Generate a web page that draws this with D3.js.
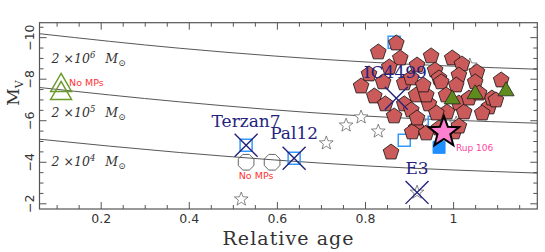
<!DOCTYPE html>
<html>
<head>
<meta charset="utf-8">
<script src="https://cdn.jsdelivr.net/npm/d3@7"></script>
<style>
  html, body { margin: 0; padding: 0; background: #fff; }
  svg { display: block; }
</style>
</head>
<body>
<svg id="chart" width="545" height="252"></svg>
<script>
// Relative age vs M_V — globular clusters, constant-mass tracks

const xDomain = [0.06, 1.19];
const yDomain = [-10.72, -1.75];
const xMajor = [0.2, 0.4, 0.6, 0.8, 1];
const yMajor = [-10, -8, -6, -4, -2];

// constant-mass lines [age, Mv]
const massLines = [
  { label: '6', pts: [[0.06, -10.19], [0.378, -9.49], [0.808, -8.82], [1.19, -8.48]], labelAt: [0.0875, -8.8] },
  { label: '5', pts: [[0.06, -7.60], [0.378, -6.91], [0.763, -6.27], [1.19, -5.88]], labelAt: [0.0875, -6.17] },
  { label: '4', pts: [[0.06, -5.11], [0.378, -4.47], [0.808, -3.82], [1.19, -3.48]], labelAt: [0.0875, -3.83] },
];

// red pentagons: bulk of the sample
const pentAge = [0.87, 0.829, 0.879, 0.854, 0.808, 0.79, 0.82, 0.888, 0.904, 0.915, 0.888, 0.865, 0.904, 0.915,
  0.858, 0.906, 0.938, 1.001, 0.949, 0.958, 0.997, 1.019, 0.967, 1.012, 1.053, 1.108, 1.006, 0.972, 0.944, 0.938,
  1.012, 1.024, 1.08, 1.087, 1.049, 0.967, 1.012, 0.84, 0.917, 0.985, 1.065, 1.096, 0.931,
  0.917, 0.983, 1.035, 0.961, 0.845, 1.058];
const pentMv = [-9.73, -9.30, -9.01, -8.58, -8.24, -7.66, -7.18, -7.81, -8.05, -7.23, -6.80, -6.22, -6.51, -5.64,
  -4.48, -5.45, -5.40, -5.45, -9.11, -8.43, -9.01, -8.72, -8.05, -8.19, -8.34, -7.95, -7.71, -7.86, -6.80, -7.23,
  -6.84, -6.41, -6.65, -7.08, -7.86, -5.64, -5.73, -7.86, -6.12, -6.41, -6.36, -6.99, -7.71,
  -8.67, -7.23, -7.08, -6.36, -6.80, -7.32];

// open stars
const starAge = [0.518, 0.711, 0.756, 0.79, 0.829, 0.922, 1.006, 1.037, 0.917];
const starMv = [-2.22, -4.92, -5.78, -6.17, -5.49, -5.93, -5.88, -8.67, -2.55];

// open blue squares
const sqAge = [0.865, 0.888, 0.956, 0.529, 0.638];
const sqMv = [-9.78, -5.06, -5.93, -4.82, -4.19];
// filled blue square
const fsqAge = [0.967];
const fsqMv = [-4.72];

// green filled triangles
const triAge = [0.997, 1.049, 1.119];
const triMv = [-7.08, -7.33, -7.47];
// green open triangles (no MPs)
const otriAge = [0.109, 0.109];
const otriMv = [-7.76, -7.37];

// grey octagons (no MPs)
const octAge = [0.529, 0.588];
const octMv = [-4.0, -4.0];

// named clusters marked with a cross
const crossName = ['Terzan7', 'Pal12', 'IC4499', 'E3'];
const crossAge = [0.529, 0.638, 0.870, 0.917];
const crossMv = [-4.82, -4.19, -7.08, -2.55];

// Rup 106
const rupAge = 0.978, rupMv = -5.45;

const svg = d3.select('#chart');
const margin = { top: 22.7, right: 7.7, bottom: 43, left: 39.5 };
const W = 545, H = 252;
const x = d3.scaleLinear().domain(xDomain).range([margin.left, W - margin.right]);
const y = d3.scaleLinear().domain(yDomain).range([margin.top, H - margin.bottom]);

const axisCol = '#555';
const navy = '#23237e';

// custom symbol shapes
function polygon(n, rot) {
  return {
    draw(ctx, size) {
      const r = Math.sqrt(size);
      for (let i = 0; i < n; i++) {
        const a = rot + i * 2 * Math.PI / n;
        const px = r * Math.sin(a), py = -r * Math.cos(a);
        if (i === 0) ctx.moveTo(px, py); else ctx.lineTo(px, py);
      }
      ctx.closePath();
    }
  };
}
const pentagon = polygon(5, 0);
const octagon = polygon(8, Math.PI / 8);
function star5(ctx, r) {
  for (let i = 0; i < 10; i++) {
    const rr = i % 2 ? r * 0.42 : r;
    const a = i * Math.PI / 5;
    const px = rr * Math.sin(a), py = -rr * Math.cos(a);
    if (i === 0) ctx.moveTo(px, py); else ctx.lineTo(px, py);
  }
  ctx.closePath();
}
const starShape = { draw(ctx, size) { star5(ctx, Math.sqrt(size)); } };
const triShape = {
  draw(ctx, size) {
    const h = Math.sqrt(size);
    ctx.moveTo(0, -h * 0.6); ctx.lineTo(h * 0.58, h * 0.4); ctx.lineTo(-h * 0.58, h * 0.4); ctx.closePath();
  }
};
const sqShape = {
  draw(ctx, size) { const s = Math.sqrt(size) / 2; ctx.rect(-s, -s, 2 * s, 2 * s); }
};
const xShape = {
  draw(ctx, size) {
    const s = Math.sqrt(size);
    ctx.moveTo(-s, -s); ctx.lineTo(s, s); ctx.moveTo(s, -s); ctx.lineTo(-s, s);
  }
};

// ticks (inward, on all four sides)
const xTicks = d3.range(0.1, 1.1901, 0.05).map(v => +v.toFixed(2));
const yTicks = d3.range(-10.5, -1.749, 0.5).map(v => +v.toFixed(1));
const isMajX = v => xMajor.some(m => Math.abs(m - v) < 1e-6);
const isMajY = v => yMajor.some(m => Math.abs(m - v) < 1e-6);

const ax = svg.append('g');
const x0 = margin.left, x1 = W - margin.right, y0 = margin.top, y1 = H - margin.bottom;
xTicks.forEach(v => {
  const L = isMajX(v) ? 7 : 4;
  ax.append('line').attr('x1', x(v)).attr('x2', x(v)).attr('y1', y1).attr('y2', y1 - L);
  ax.append('line').attr('x1', x(v)).attr('x2', x(v)).attr('y1', y0).attr('y2', y0 + L);
});
yTicks.forEach(v => {
  const L = isMajY(v) ? 7 : 4;
  ax.append('line').attr('x1', x0).attr('x2', x0 + L).attr('y1', y(v)).attr('y2', y(v));
  ax.append('line').attr('x1', x1).attr('x2', x1 - L).attr('y1', y(v)).attr('y2', y(v));
});
ax.selectAll('line').attr('stroke', axisCol).attr('stroke-width', 1);

// tick labels
svg.append('g').selectAll('text').data(xMajor).enter().append('text')
  .attr('x', d => x(d)).attr('y', 223)
  .attr('text-anchor', 'middle')
  .style('font-family', 'DejaVu Sans, sans-serif').style('font-size', '12.5px').style('fill', '#333')
  .text(d => d3.format('~g')(d));
svg.append('g').selectAll('text').data(yMajor).enter().append('text')
  .attr('transform', d => `translate(34,${y(d)}) rotate(-90)`)
  .attr('text-anchor', 'middle')
  .style('font-family', 'DejaVu Sans, sans-serif').style('font-size', '12.5px').style('fill', '#333')
  .text(d => '\u2212' + Math.abs(d));

// axis titles
svg.append('text').attr('x', 288).attr('y', 245).attr('text-anchor', 'middle')
  .attr('textLength', 131)
  .style('font-family', 'DejaVu Serif, serif').style('font-size', '19px').style('fill', '#333')
  .text('Relative age');
const yt = svg.append('text').attr('transform', 'translate(19,93) rotate(-90)').attr('text-anchor', 'middle')
  .style('font-family', 'DejaVu Serif, serif').style('font-size', '17px').style('fill', '#333');
yt.append('tspan').text('M');
yt.append('tspan').attr('dy', 4).style('font-size', '11px').text('V');

// mass lines + labels
const line = d3.line().x(d => x(d[0])).y(d => y(d[1])).curve(d3.curveMonotoneX);
massLines.forEach(m => {
  svg.append('path').datum(m.pts).attr('d', line)
    .attr('fill', 'none').attr('stroke', '#444').attr('stroke-width', 0.9);
  const t = svg.append('text').attr('x', x(m.labelAt[0])).attr('y', y(m.labelAt[1]))
    .style('font-family', 'DejaVu Serif, serif').style('font-style', 'italic')
    .style('font-size', '12.5px').style('fill', '#333');
  t.append('tspan').text('2 \u00d710');
  t.append('tspan').attr('dy', -5).style('font-size', '8.5px').text(m.label);
  t.append('tspan').attr('dy', 5).attr('dx', 10).text('M');
  t.append('tspan').attr('dy', 3).style('font-size', '9px').text('\u2299');
});

const sym = (shape, size) => d3.symbol().type(shape).size(size)();

// open stars (behind)
svg.append('g').selectAll('path').data(starAge).enter().append('path')
  .attr('transform', (d, i) => `translate(${x(d)},${y(starMv[i])})`)
  .attr('d', sym(starShape, 52)).attr('fill', '#fff').attr('stroke', '#555').attr('stroke-width', 0.7);

// open blue squares
svg.append('g').selectAll('path').data(sqAge).enter().append('path')
  .attr('transform', (d, i) => `translate(${x(d)},${y(sqMv[i])})`)
  .attr('d', sym(sqShape, 144)).attr('fill', 'none').attr('stroke', '#3399ff').attr('stroke-width', 1.5);

// pentagons
svg.append('g').selectAll('path').data(pentAge).enter().append('path')
  .attr('transform', (d, i) => `translate(${x(d)},${y(pentMv[i])})`)
  .attr('d', sym(pentagon, 68)).attr('fill', '#cb5a5a').attr('stroke', '#111').attr('stroke-width', 0.8);

// filled green triangles
svg.append('g').selectAll('path').data(triAge).enter().append('path')
  .attr('transform', (d, i) => `translate(${x(d)},${y(triMv[i])})`)
  .attr('d', sym(triShape, 196)).attr('fill', '#5f8a1e').attr('stroke', '#222').attr('stroke-width', 0.8);

// open green triangles
svg.append('g').selectAll('path').data(otriAge).enter().append('path')
  .attr('transform', (d, i) => `translate(${x(d)},${y(otriMv[i])})`)
  .attr('d', sym(triShape, 324)).attr('fill', 'none').attr('stroke', '#6b9a2a').attr('stroke-width', 1.5);

// octagons
svg.append('g').selectAll('path').data(octAge).enter().append('path')
  .attr('transform', (d, i) => `translate(${x(d)},${y(octMv[i])})`)
  .attr('d', sym(octagon, 72)).attr('fill', 'none').attr('stroke', '#555').attr('stroke-width', 0.9);

// filled blue square
svg.append('g').selectAll('path').data(fsqAge).enter().append('path')
  .attr('transform', (d, i) => `translate(${x(d)},${y(fsqMv[i])})`)
  .attr('d', sym(sqShape, 144)).attr('fill', '#1e8fff').attr('stroke', '#1e8fff');

// Rup 106 star
svg.append('path').attr('transform', `translate(${x(rupAge)},${y(rupMv)})`)
  .attr('d', sym(starShape, 256)).attr('fill', '#ff7fd0').attr('stroke', '#000').attr('stroke-width', 2);
svg.append('text').attr('x', x(rupAge) + 12).attr('y', y(rupMv) + 19)
  .style('font-family', 'DejaVu Sans, sans-serif').style('font-size', '9px').style('fill', '#ff3fa0')
  .text('Rup 106');

// crosses + names
const nameOffset = { Terzan7: [0, -18], Pal12: [0, -19], IC4499: [-1, -20], E3: [0, -18] };
crossAge.forEach((a, i) => {
  svg.append('path').attr('transform', `translate(${x(a)},${y(crossMv[i])})`)
    .attr('d', sym(xShape, 132)).attr('fill', 'none').attr('stroke', navy).attr('stroke-width', 1.4);
  const off = nameOffset[crossName[i]];
  svg.append('text').attr('x', x(a) + off[0]).attr('y', y(crossMv[i]) + off[1])
    .attr('text-anchor', 'middle')
    .style('font-family', 'DejaVu Serif, serif').style('font-size', '17px').style('fill', navy)
    .text(crossName[i]);
});

// "No MPs" notes
svg.append('text').attr('x', x(otriAge[0]) + 8).attr('y', y(otriMv[0]) + 2)
  .style('font-family', 'DejaVu Sans, sans-serif').style('font-size', '9.5px').style('fill', '#ff3333')
  .text('No MPs');
svg.append('text').attr('x', (x(octAge[0]) + x(octAge[1])) / 2 - 3).attr('y', y(octMv[0]) + 17)
  .attr('text-anchor', 'middle')
  .style('font-family', 'DejaVu Sans, sans-serif').style('font-size', '9.5px').style('fill', '#ff3333')
  .text('No MPs');

// frame
svg.append('rect').attr('x', x0).attr('y', y0).attr('width', x1 - x0).attr('height', y1 - y0)
  .attr('fill', 'none').attr('stroke', axisCol).attr('stroke-width', 1.2);
</script>
</body>
</html>
